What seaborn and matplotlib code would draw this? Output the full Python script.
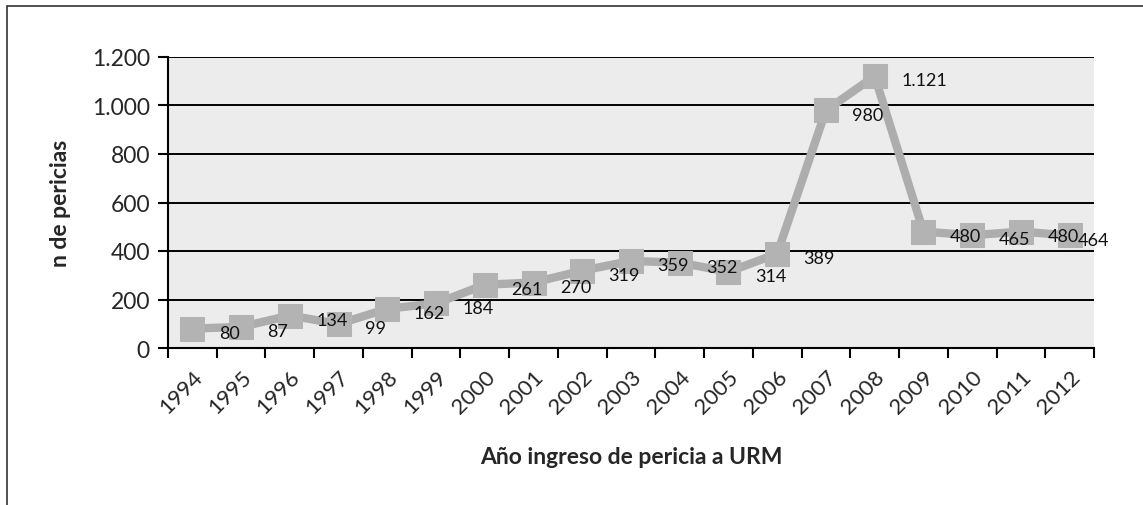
import numpy as np
import pandas as pd
import matplotlib
matplotlib.use("Agg")
import matplotlib.pyplot as plt
import seaborn as sns
from matplotlib.patches import Rectangle
from matplotlib.ticker import FuncFormatter, FixedLocator


years = [str(y) for y in range(1994, 2013)]
pericias = [80, 87, 134, 99, 162, 184, 261, 270, 319, 359, 352, 314, 389,
            980, 1121, 480, 465, 480, 464]
yticks = [0, 200, 400, 600, 800, 1000, 1200]

df = pd.DataFrame({"year": years, "n": pericias})

sns.set_style("white")
plt.rcParams['font.family'] = ['Lato', 'DejaVu Sans']

fig = plt.figure(figsize=(11.43, 5.06), dpi=100)
ax = fig.add_axes([168 / 1143, 1 - 349 / 506, (1094 - 168) / 1143, (349 - 58) / 506])

# outer chart frame (cut off at right/bottom like the screenshot)
fig.patches.append(Rectangle((7 / 1143, -0.1), 1.2, 1 - 7 / 506 + 0.1,
                             transform=fig.transFigure, fill=False,
                             edgecolor="#333333", linewidth=1.2))

ax.set_facecolor("#EBECEB")

sns.lineplot(data=df, x="year", y="n", ax=ax, color="#ADADAD", linewidth=6,
             marker="s", markersize=17, markeredgecolor="#B3B3B3",
             markerfacecolor="#B3B3B3", sort=False)

ax.set_xlim(-0.5, len(years) - 0.5)
ax.set_ylim(0, 1200)
ax.set_yticks(yticks)
ax.yaxis.set_major_formatter(FuncFormatter(lambda v, p: f"{int(v):,}".replace(",", ".")))
ax.yaxis.grid(True, color="black", linewidth=1.4)
ax.set_axisbelow(True)

# ticks between categories, labels at category centres
ax.set_xticks(range(len(years)))
ax.set_xticklabels(years, rotation=45, ha="right", rotation_mode="anchor")
ax.xaxis.set_minor_locator(FixedLocator(np.arange(-0.5, len(years), 1)))
ax.tick_params(axis="x", which="major", length=0, pad=13, labelsize=16)
ax.tick_params(axis="x", which="minor", length=7, width=1.5, direction="out",
               color="black", bottom=True)
ax.tick_params(axis="y", which="major", length=7, width=1.5, direction="out",
               color="black", left=True, labelsize=16.5, pad=6)

for s in ["top", "right"]:
    ax.spines[s].set_visible(False)
for s in ["left", "bottom"]:
    ax.spines[s].set_color("black")
    ax.spines[s].set_linewidth(1.5)

for i, v in enumerate(pericias):
    lbl = f"{v:,}".replace(",", ".")
    dx = 19 if i < len(pericias) - 1 else 6
    ax.annotate(lbl, (i, v), xytext=(dx, -3), textcoords="offset points",
                ha="left", va="center", fontsize=13, color="#111111")

ax.set_xlabel("Año ingreso de pericia a URM", fontsize=16.5, fontweight="bold",
              labelpad=21)
ax.set_ylabel("n de pericias", fontsize=16.5, fontweight="bold", labelpad=15)

fig.savefig("out.png", dpi=100)
